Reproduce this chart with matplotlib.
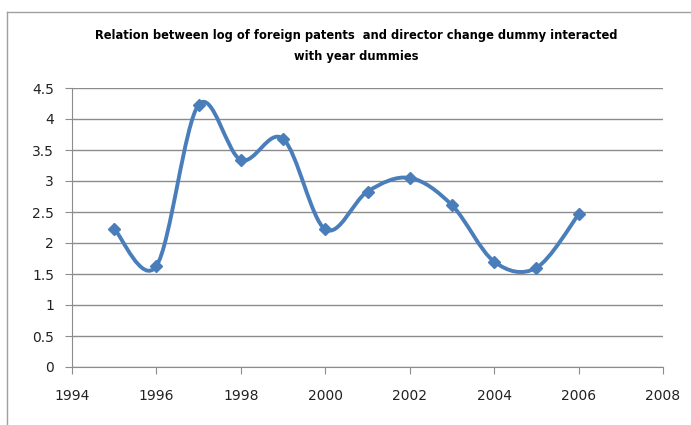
import numpy as np
import matplotlib.pyplot as plt
from matplotlib.path import Path
from matplotlib.patches import PathPatch
from matplotlib.lines import Line2D

years = [1995, 1996, 1997, 1998, 1999, 2000, 2001, 2002, 2003, 2004, 2005, 2006]
values = [2.23, 1.63, 4.23, 3.34, 3.68, 2.22, 2.83, 3.05, 2.61, 1.70, 1.60, 2.46]

blue = "#4a7ebb"
grid_col = "#8c8c8c"

fig = plt.figure(figsize=(6.91, 4.25), dpi=100)
ax = fig.add_axes([72 / 691, (425 - 367) / 425, (663 - 72) / 691, (367 - 88) / 425])

# smoothed line like Excel (Catmull-Rom style bezier)
x = np.array(years, dtype=float)
y = np.array(values, dtype=float)
verts = [(x[0], y[0])]
codes = [Path.MOVETO]
n = len(x)
for i in range(n - 1):
    p0 = np.array([x[max(i - 1, 0)], y[max(i - 1, 0)]])
    p1 = np.array([x[i], y[i]])
    p2 = np.array([x[i + 1], y[i + 1]])
    p3 = np.array([x[min(i + 2, n - 1)], y[min(i + 2, n - 1)]])
    c1 = p1 + (p2 - p0) / 6
    c2 = p2 - (p3 - p1) / 6
    verts += [tuple(c1), tuple(c2), tuple(p2)]
    codes += [Path.CURVE4] * 3
ax.add_patch(PathPatch(Path(verts, codes), facecolor="none", edgecolor=blue,
                       lw=2.8, capstyle="round", joinstyle="round", zorder=3))
ax.plot(years, values, linestyle="none", marker="D", markersize=6.5,
        color=blue, zorder=4)

ax.set_xlim(1994, 2008)
ax.set_ylim(0, 4.5)
ax.set_xticks(range(1994, 2009, 2))
ax.set_yticks(np.arange(0, 4.51, 0.5))
ax.set_yticklabels(["0", "0.5", "1", "1.5", "2", "2.5", "3", "3.5", "4", "4.5"])
ax.yaxis.grid(True, color=grid_col, lw=1)
ax.set_axisbelow(True)
for s in ["top", "right"]:
    ax.spines[s].set_visible(False)
for s in ["left", "bottom"]:
    ax.spines[s].set_color(grid_col)
ax.tick_params(axis="both", colors=grid_col, labelcolor="#222222", labelsize=10,
               length=5, direction="out")
ax.tick_params(axis="x", pad=11)
ax.tick_params(axis="y", pad=8)

fig.text(0.515, 1 - 46 / 425, "Relation between log of foreign patents  and director change dummy interacted\nwith year dummies",
         ha="center", va="center", fontsize=8.3, fontweight="bold", linespacing=1.75,
         family="DejaVu Sans")

# outer chart frame
fig.add_artist(Line2D([7 / 691, 7 / 691], [0, 1 - 12 / 425], color="#a0a0a0", lw=1))
fig.add_artist(Line2D([7 / 691, 1], [1 - 12 / 425, 1 - 12 / 425], color="#a0a0a0", lw=1))

fig.savefig("out.png", dpi=100)
